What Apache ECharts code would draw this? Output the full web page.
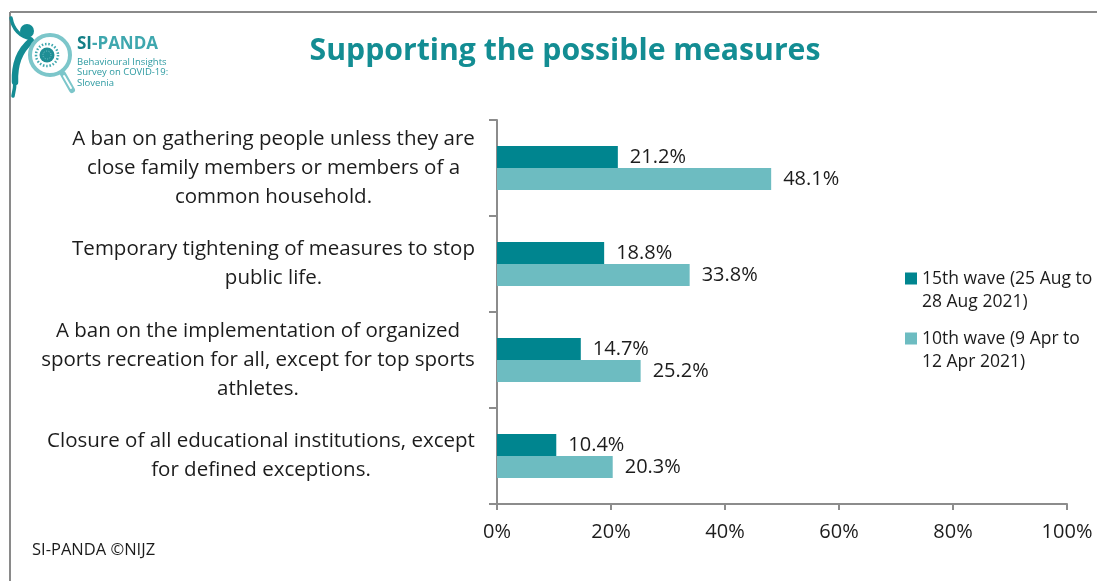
<!DOCTYPE html>
<html>
<head>
<meta charset="utf-8">
<script src="https://cdn.jsdelivr.net/npm/echarts@6/dist/echarts.min.js"></script>
<style>
  html, body { margin: 0; padding: 0; background: #fff; }
  #chart { width: 1097px; height: 581px; }
</style>
</head>
<body>
<div id="chart"></div>
<script>
// Survey items (top to bottom), wrapped as shown on the axis
const categories = [
  'A ban on gathering people unless they are\nclose family members or members of a\ncommon household.',
  'Temporary tightening of measures to stop\npublic life.',
  'A ban on the implementation of organized\nsports recreation for all, except for top sports\nathletes.',
  'Closure of all educational institutions, except\nfor defined exceptions.'
];
const seriesNames = ['15th wave (25 Aug to\n28 Aug 2021)', '10th wave (9 Apr to\n12 Apr 2021)'];
const wave15 = [21.2, 18.8, 14.7, 10.4];
const wave10 = [48.1, 33.8, 25.2, 20.3];
const xTicks = [0, 20, 40, 60, 80, 100];

const FONT = '"Open Sans", "Noto Sans", sans-serif';
const DARK = '#00858F';
const LIGHT = '#6DBCC1';
const TEXT = '#1c1c1c';
const CAT_SIZE = 20.5;

// each category label is a block whose lines are centred within the block,
// and the block is right-aligned against the axis
const measureCtx = document.createElement('canvas').getContext('2d');
measureCtx.font = CAT_SIZE + 'px ' + FONT;
const rich = {};
categories.forEach((c, i) => {
  const w = Math.max(...c.split('\n').map(l => measureCtx.measureText(l).width));
  rich['c' + i] = { width: Math.ceil(w) + 2, align: 'center', fontSize: CAT_SIZE, lineHeight: 29, color: TEXT, fontFamily: FONT };
});

const chart = echarts.init(document.getElementById('chart'), null, { renderer: 'canvas' });

const labelOpt = {
  show: true,
  position: 'right',
  distance: 12,
  fontSize: 20,
  color: TEXT,
  fontFamily: FONT,
  formatter: p => p.value.toFixed(1) + '%'
};

// square legend marker sitting on the first text line
const legendIcon = 'path://M0,0H12V12H0Z M0,35.9L0.05,36Z';

chart.setOption({
  backgroundColor: '#ffffff',
  animation: false,
  textStyle: { fontFamily: FONT },
  title: {
    text: 'Supporting the possible measures',
    left: 560,
    top: 31,
    textAlign: 'center',
    textStyle: { fontSize: 30.2, fontWeight: 'bold', color: '#138D93', fontFamily: FONT }
  },
  legend: {
    orient: 'vertical',
    left: 900,
    top: 262,
    itemWidth: 12,
    itemHeight: 36,
    itemGap: 13,
    icon: legendIcon,
    data: seriesNames,
    textStyle: { fontSize: 17.5, lineHeight: 23.5, color: TEXT, fontFamily: FONT }
  },
  grid: { left: 497, right: 30, top: 120, bottom: 77, containLabel: false },
  xAxis: {
    type: 'value',
    min: 0,
    max: 100,
    interval: 20,
    axisLine: { show: true, lineStyle: { color: '#8c8c8c', width: 2 } },
    axisTick: { show: true, length: 6, lineStyle: { color: '#8c8c8c', width: 2 } },
    splitLine: { show: false },
    axisLabel: {
      margin: 18,
      fontSize: 20,
      color: TEXT,
      fontFamily: FONT,
      formatter: v => xTicks.includes(v) ? v + '%' : ''
    }
  },
  yAxis: {
    type: 'category',
    inverse: true,
    data: categories,
    axisLine: { show: true, lineStyle: { color: '#8c8c8c', width: 2 } },
    axisTick: { show: true, length: 8, lineStyle: { color: '#8c8c8c', width: 2 } },
    axisLabel: {
      margin: 21,
      align: 'right',
      formatter: (v, i) => v.split('\n').map(l => '{c' + i + '|' + l + '}').join('\n'),
      rich: rich
    }
  },
  series: [
    {
      name: seriesNames[0],
      type: 'bar',
      data: wave15,
      barWidth: 22,
      barGap: '0%',
      itemStyle: { color: DARK },
      label: labelOpt
    },
    {
      name: seriesNames[1],
      type: 'bar',
      data: wave10,
      barWidth: 22,
      barGap: '0%',
      itemStyle: { color: LIGHT },
      label: labelOpt
    }
  ],
  graphic: [
    // frame lines
    { type: 'line', shape: { x1: 10, y1: 12, x2: 1097, y2: 12 }, style: { stroke: '#8a8a8a', lineWidth: 2 } },
    { type: 'line', shape: { x1: 10, y1: 12, x2: 10, y2: 581 }, style: { stroke: '#8a8a8a', lineWidth: 2 } },
    // logo: figure (arm, body, head)
    { type: 'bezierCurve', shape: { x1: 11, y1: 18, cpx1: 14, cpy1: 35, x2: 31, y2: 39 }, style: { stroke: '#148C93', lineWidth: 3.5, fill: null, lineCap: 'round' } },
    { type: 'bezierCurve', shape: { x1: 31, y1: 41, cpx1: 14, cpy1: 55, x2: 15, y2: 82 }, style: { stroke: '#148C93', lineWidth: 6.5, fill: null, lineCap: 'round' } },
    { type: 'bezierCurve', shape: { x1: 15, y1: 80, cpx1: 15, cpy1: 88, x2: 13, y2: 96 }, style: { stroke: '#148C93', lineWidth: 3.5, fill: null, lineCap: 'round' } },
    { type: 'circle', shape: { cx: 27, cy: 31, r: 7 }, style: { fill: '#148C93' } },
    // logo: magnifier ring and handle
    { type: 'line', shape: { x1: 63, y1: 74, x2: 72, y2: 90 }, style: { stroke: '#7CC6CA', lineWidth: 6, lineCap: 'round' } },
    { type: 'line', shape: { x1: 64, y1: 76, x2: 71, y2: 88 }, style: { stroke: '#ffffff', lineWidth: 2, lineCap: 'round' } },
    { type: 'circle', shape: { cx: 50, cy: 55, r: 20 }, style: { fill: '#fff', stroke: '#7CC6CA', lineWidth: 4 } },
    // logo: virus
    { type: 'circle', shape: { cx: 47, cy: 55, r: 11 }, style: { fill: null, stroke: '#3EA7AE', lineWidth: 2.5, lineDash: [1.5, 1.8] } },
    { type: 'circle', shape: { cx: 47, cy: 55, r: 7.5 }, style: { fill: '#1F8E95' } },
    { type: 'circle', shape: { cx: 47, cy: 55, r: 4 }, style: { fill: null, stroke: '#7CC6CA', lineWidth: 1, lineDash: [1, 1.5] } },
    // logo: wordmark
    { type: 'text', left: 77, top: 36, style: { text: '{a|SI}{b|-PANDA}', rich: { a: { fontSize: 17, fontWeight: 'bold', fill: '#137F86', fontFamily: FONT }, b: { fontSize: 17, fontWeight: 'bold', fill: '#3EA7AE', fontFamily: FONT } } } },
    { type: 'text', left: 77, top: 57, style: { text: 'Behavioural Insights\nSurvey on COVID-19:\nSlovenia', fontSize: 9.5, lineHeight: 10.5, fill: '#2C9AA1', fontFamily: FONT } },
    // footer
    { type: 'text', left: 32, top: 542, style: { text: 'SI-PANDA ©NIJZ', fontSize: 16.5, fill: TEXT, fontFamily: FONT } }
  ]
});
</script>
</body>
</html>
